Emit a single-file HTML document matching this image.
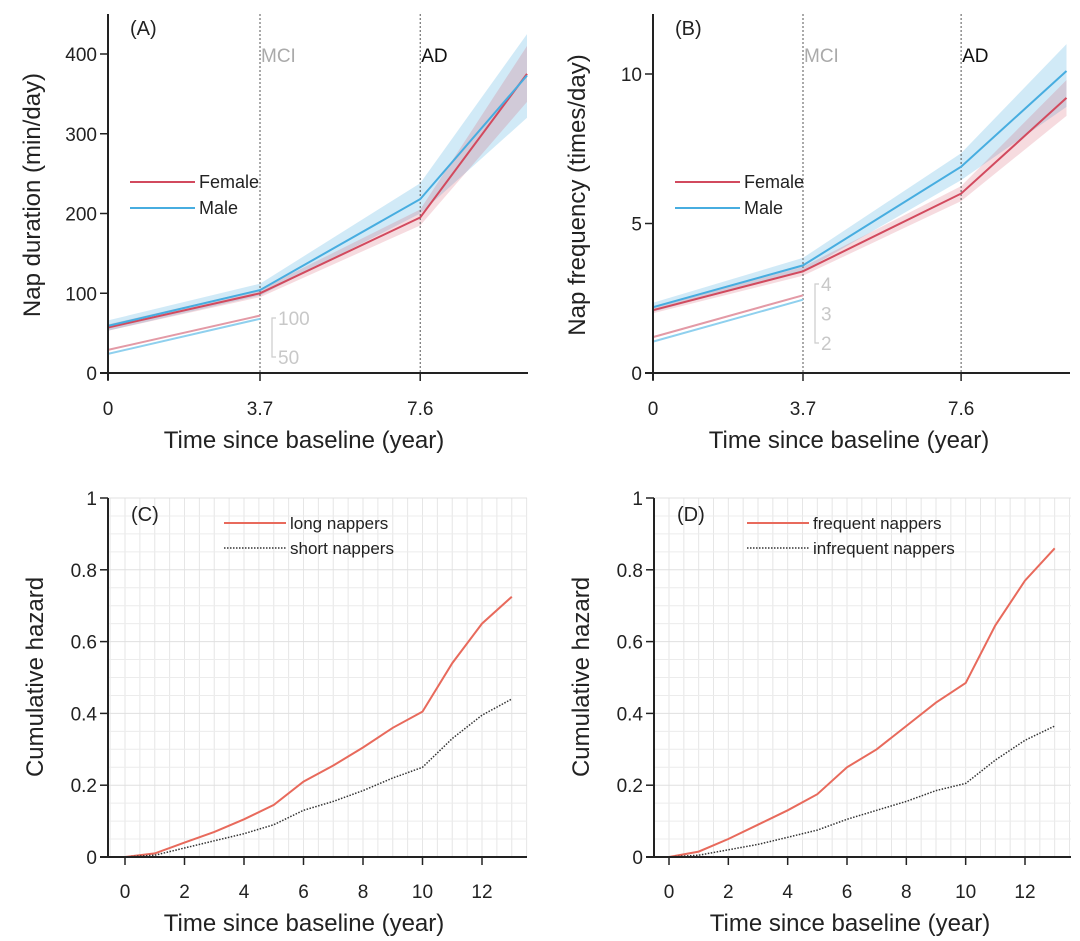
<!DOCTYPE html>
<html><head><meta charset="utf-8"><style>
body{margin:0;background:#fff;}
svg{display:block;font-family:"Liberation Sans",sans-serif;}
</style></head><body>
<svg id="c" width="1080" height="941" viewBox="0 0 1080 941" xmlns="http://www.w3.org/2000/svg"></svg>
<script>
// Panel A data (nap duration)
const abX = [0, 3.7, 7.6, 10.2];
const aFemale = [57, 100, 195, 375];
const aFemaleLo = [53, 95, 185, 340];
const aFemaleHi = [61, 105, 205, 410];
const aMale = [59, 104, 218, 373];
const aMaleLo = [53, 97, 200, 320];
const aMaleHi = [66, 112, 238, 425];
const aSmallX = [0, 3.7];
const aSmallFemale = [29, 72];
const aSmallMale = [24, 68];
const aTicks = [0, 100, 200, 300, 400];
// Panel B data (nap frequency)
const bFemale = [2.1, 3.4, 6.0, 9.2];
const bFemaleLo = [2.0, 3.25, 5.75, 8.6];
const bFemaleHi = [2.2, 3.55, 6.25, 9.8];
const bMale = [2.2, 3.6, 6.9, 10.1];
const bMaleLo = [2.05, 3.4, 6.45, 8.9];
const bMaleHi = [2.35, 3.85, 7.35, 11.0];
const bSmallFemale = [1.2, 2.6];
const bSmallMale = [1.05, 2.45];
const bTicks = [0, 5, 10];
const abXTicks = [0, 3.7, 7.6];
// Panels C/D data (cumulative hazard)
const hYears = [0,1,2,3,4,5,6,7,8,9,10,11,12,13];
const cLong = [0,0.01,0.04,0.07,0.105,0.145,0.21,0.255,0.305,0.36,0.405,0.54,0.65,0.725];
const cShort = [0,0.005,0.025,0.045,0.065,0.09,0.13,0.155,0.185,0.22,0.25,0.33,0.395,0.44];
const dFreq = [0,0.015,0.05,0.09,0.13,0.175,0.25,0.3,0.365,0.43,0.485,0.645,0.77,0.86];
const dInfreq = [0,0.005,0.02,0.035,0.055,0.075,0.105,0.13,0.155,0.185,0.205,0.27,0.325,0.365];
const hXTicks = [0,2,4,6,8,10,12];
const hYTicks = [0,0.2,0.4,0.6,0.8,1];
const hYLabels = ['0','0.2','0.4','0.6','0.8','1'];

const svg = document.getElementById('c');
const NS = 'http://www.w3.org/2000/svg';
function el(tag, attrs, parent){const e=document.createElementNS(NS,tag);for(const k in attrs)e.setAttribute(k,attrs[k]);(parent||svg).appendChild(e);return e;}
function txt(s, attrs, parent){const e=el('text',attrs,parent);e.textContent=s;return e;}
function lin(x0,x1,p0,p1){return v=>p0+(v-x0)/(x1-x0)*(p1-p0);}
function path(xs,ys,sx,sy){return xs.map((x,i)=>(i?'L':'M')+sx(x).toFixed(1)+','+sy(ys[i]).toFixed(1)).join('');}
function band(xs,lo,hi,sx,sy){let d=path(xs,hi,sx,sy);for(let i=xs.length-1;i>=0;i--)d+='L'+sx(xs[i]).toFixed(1)+','+sy(lo[i]).toFixed(1);return d+'Z';}

const RED='#d24a5e', BLUE='#47ade0', HRED='#e86a5c';
const TICK=19, TITLE=24;

function trajPanel(o){
  const g=el('g',{});
  
  
  const sx=lin(0,3.7,o.ax,o.x37);
  const sy=lin(0,o.ymax,373,o.ytop);
  const bm=el('path',{d:band(abX,o.mLo,o.mHi,sx,sy),fill:BLUE,opacity:0.25},g);
  
  const bf=el('path',{d:band(abX,o.fLo,o.fHi,sx,sy),fill:RED,opacity:0.2},g);
  
  for(const [xv,lab,col] of [[3.7,'MCI','#aaa'],[7.6,'AD','#111']]){
    const l=el('line',{x1:sx(xv),x2:sx(xv),y1:14,y2:373,stroke:'#555','stroke-width':1,'stroke-dasharray':'2,2'},g);
    
    const t=txt(lab,{x:sx(xv)+1,y:62,'font-size':19,fill:col},g);
    
  }
  const mf=el('path',{d:path(abX,o.f,sx,sy),fill:'none',stroke:RED,'stroke-width':2},g);
  
  const mm=el('path',{d:path(abX,o.m,sx,sy),fill:'none',stroke:BLUE,'stroke-width':2},g);
  
  const sy2=lin(o.sMin,o.sMax,o.sMinY,o.sMaxY);
  const sf=el('path',{d:path(aSmallX,o.sf,sx,sy),fill:'none',stroke:'#e39aa6','stroke-width':2},g);
  
  const sm=el('path',{d:path(aSmallX,o.sm,sx,sy),fill:'none',stroke:'#8fd0ee','stroke-width':2},g);
  
  const bx=o.x37+12;
  const br=el('path',{d:`M${bx+4},${o.sMaxY}H${bx}V${o.sMinY}H${bx+4}`,fill:'none',stroke:'#ccc','stroke-width':1.2},g);
  
  o.sLabels.forEach(v=>{const t=txt(String(v),{x:bx+6,y:sy2(v)+7,'font-size':19,fill:'#c8c8c8'},g);
    });
  const ya=el('line',{x1:o.ax,x2:o.ax,y1:14,y2:380,stroke:'#222','stroke-width':2},g);
  
  const xa=el('line',{x1:o.ax-8,x2:o.xend,y1:373,y2:373,stroke:'#222','stroke-width':2},g);
  
  o.yTicks.forEach(v=>{el('line',{x1:o.ax-8,x2:o.ax,y1:sy(v),y2:sy(v),stroke:'#222','stroke-width':1.5},g);
    const t=txt(String(v),{x:o.ax-11,y:sy(v)+7,'font-size':TICK,fill:'#222','text-anchor':'end'},g);
    });
  abXTicks.forEach(v=>{el('line',{x1:sx(v),x2:sx(v),y1:373,y2:381,stroke:'#222','stroke-width':1.5},g);
    const t=txt(String(v),{x:sx(v),y:415,'font-size':TICK,fill:'#222','text-anchor':'middle'},g);
    });
  const xt=txt('Time since baseline (year)',{x:o.ax+196,y:448,'font-size':TITLE,fill:'#222','text-anchor':'middle'},g);
  
  const yt=txt(o.ytitle,{x:0,y:0,'font-size':TITLE,fill:'#222','text-anchor':'middle',transform:`translate(${o.ax-68},195) rotate(-90)`},g);
  
  const pl=txt(o.label,{x:o.ax+22,y:35,'font-size':20,fill:'#222'},g);
  
  const lx=o.ax+22;
  [['Female',RED,182],['Male',BLUE,208]].forEach(([n,c,y])=>{
    const lg=el('g',{},g);
    
    el('line',{x1:lx,x2:lx+65,y1:y,y2:y,stroke:c,'stroke-width':2},lg);
    txt(n,{x:lx+69,y:y+6,'font-size':18,fill:'#222'},lg);
  });
}

trajPanel({name:'panel-a-nap-duration',label:'(A)',ax:108,x37:260,xend:528,ymax:400,ytop:54,
  f:aFemale,fLo:aFemaleLo,fHi:aFemaleHi,m:aMale,mLo:aMaleLo,mHi:aMaleHi,sf:aSmallFemale,sm:aSmallMale,
  sMin:50,sMax:100,sMinY:357,sMaxY:318,sLabels:[100,50],yTicks:aTicks,ytitle:'Nap duration (min/day)'});
trajPanel({name:'panel-b-nap-frequency',label:'(B)',ax:653,x37:803,xend:1070,ymax:10,ytop:74,
  f:bFemale,fLo:bFemaleLo,fHi:bFemaleHi,m:bMale,mLo:bMaleLo,mHi:bMaleHi,sf:bSmallFemale,sm:bSmallMale,
  sMin:2,sMax:4,sMinY:343,sMaxY:284,sLabels:[4,3,2],yTicks:bTicks,ytitle:'Nap frequency (times/day)'});

function hazPanel(o){
  const g=el('g',{});
  
  
  const sx=lin(0,12,o.x0,o.x12);
  const sy=lin(0,1,857,498);
  const grid=el('g',{},g);
  
  for(let v=-0.5;sx(v)<=o.xend+1;v+=0.5){if(sx(v)<=o.ax)continue;
    el('line',{x1:sx(v),x2:sx(v),y1:498,y2:857,stroke:'#e6e6e6','stroke-width':1},grid);}
  for(let i=1;i<=20;i++){const v=i*0.05;
    el('line',{x1:o.ax,x2:o.xend,y1:sy(v),y2:sy(v),stroke:i%4==0?'#e0e0e0':'#ececec','stroke-width':1},grid);}
  const a=el('path',{d:path(hYears,o.a,sx,sy),fill:'none',stroke:HRED,'stroke-width':2},g);
  
  const b=el('path',{d:path(hYears,o.b,sx,sy),fill:'none',stroke:'#333','stroke-width':1.5,'stroke-dasharray':'1.5,1.5'},g);
  
  const ya=el('line',{x1:o.ax,x2:o.ax,y1:498,y2:858,stroke:'#222','stroke-width':2},g);
  
  const xa=el('line',{x1:o.ax-8,x2:o.xend,y1:857,y2:857,stroke:'#222','stroke-width':2},g);
  
  hYTicks.forEach((v,i)=>{el('line',{x1:o.ax-8,x2:o.ax,y1:sy(v),y2:sy(v),stroke:'#222','stroke-width':1.5},g);
    const t=txt(hYLabels[i],{x:o.ax-11,y:sy(v)+7,'font-size':TICK,fill:'#222','text-anchor':'end'},g);
    });
  hXTicks.forEach(v=>{el('line',{x1:sx(v),x2:sx(v),y1:857,y2:865,stroke:'#222','stroke-width':1.5},g);
    const t=txt(String(v),{x:sx(v),y:898,'font-size':TICK,fill:'#222','text-anchor':'middle'},g);
    });
  const xt=txt('Time since baseline (year)',{x:o.ax+196,y:931,'font-size':TITLE,fill:'#222','text-anchor':'middle'},g);
  
  const yt=txt('Cumulative hazard',{x:0,y:0,'font-size':TITLE,fill:'#222','text-anchor':'middle',transform:`translate(${o.ax-65},677) rotate(-90)`},g);
  
  const pl=txt(o.label,{x:o.ax+23,y:521,'font-size':20,fill:'#222'},g);
  
  const l1=el('g',{},g);
  
  el('line',{x1:o.lx,x2:o.lx+62,y1:523,y2:523,stroke:HRED,'stroke-width':2},l1);
  txt(o.aLab,{x:o.lx+66,y:529,'font-size':17,fill:'#222'},l1);
  const l2=el('g',{},g);
  
  el('line',{x1:o.lx,x2:o.lx+62,y1:548,y2:548,stroke:'#333','stroke-width':1.5,'stroke-dasharray':'1.5,1.5'},l2);
  txt(o.bLab,{x:o.lx+66,y:554,'font-size':17,fill:'#222'},l2);
}
hazPanel({name:'panel-c-duration-hazard',label:'(C)',ax:108,x0:125,x12:482,xend:527,a:cLong,b:cShort,
  aName:'long-nappers',bName:'short-nappers',aLab:'long nappers',bLab:'short nappers',lx:224});
hazPanel({name:'panel-d-frequency-hazard',label:'(D)',ax:654,x0:669,x12:1025,xend:1071,a:dFreq,b:dInfreq,
  aName:'frequent-nappers',bName:'infrequent-nappers',aLab:'frequent nappers',bLab:'infrequent nappers',lx:747});
</script>
</body></html>
